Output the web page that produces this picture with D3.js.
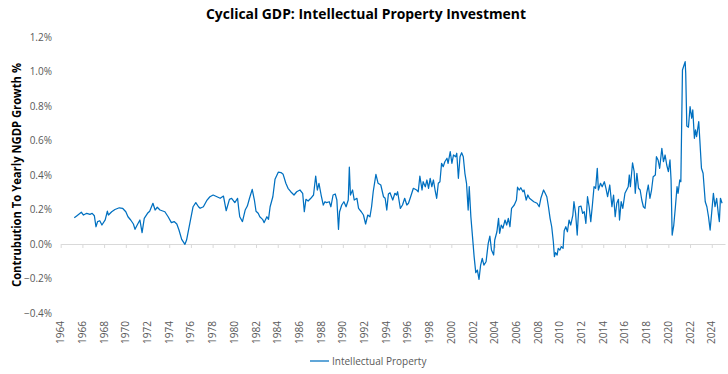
<!DOCTYPE html>
<html>
<head>
<meta charset="utf-8">
<script src="https://cdn.jsdelivr.net/npm/d3@7"></script>
<style>
  body { margin: 0; background: #fff; }
  svg { display: block; font-family: "Open Sans", "Liberation Sans", sans-serif; }
</style>
</head>
<body>
<svg id="chart"></svg>
<script>
var width = 728;
var height = 374;

// time in decimal years, values in % of yearly NGDP growth
var years = [
  1965.25, 1965.5, 1965.9, 1966.1, 1966.4, 1966.7, 1966.9, 1967.1, 1967.25, 1967.4,
  1967.6, 1967.8, 1968.1, 1968.3, 1968.4, 1968.7, 1969.0, 1969.4, 1969.7, 1970.0,
  1970.2, 1970.45, 1970.7, 1970.85, 1971.05, 1971.3, 1971.5, 1971.7, 1972.0, 1972.2,
  1972.5, 1972.7, 1972.9, 1973.15, 1973.6, 1973.9, 1974.2, 1974.45, 1974.7, 1974.9,
  1975.15, 1975.45, 1975.6, 1975.9, 1976.2, 1976.45, 1976.7, 1976.85, 1977.15, 1977.45,
  1977.75, 1978.05, 1978.4, 1978.7, 1979.0, 1979.25, 1979.55, 1979.75, 1980.05, 1980.3,
  1980.4, 1980.5, 1980.75, 1981.0, 1981.2, 1981.4, 1981.65, 1981.85, 1982.0, 1982.2,
  1982.35, 1982.6, 1982.75, 1983.0, 1983.15, 1983.3, 1983.55, 1983.75, 1984.05, 1984.3,
  1984.5, 1984.75, 1984.95, 1985.2, 1985.5, 1985.75, 1986.05, 1986.3, 1986.45, 1986.6,
  1986.8, 1987.05, 1987.3, 1987.5, 1987.65, 1987.8, 1988.0, 1988.2, 1988.35, 1988.5,
  1988.75, 1988.9, 1989.1, 1989.3, 1989.45, 1989.6, 1989.7, 1989.9, 1990.1, 1990.3,
  1990.5, 1990.6, 1990.7, 1990.9, 1991.05, 1991.3, 1991.45, 1991.7, 1991.9, 1992.1,
  1992.3, 1992.5, 1992.65, 1992.8, 1993.05, 1993.25, 1993.5, 1993.75, 1993.9, 1994.05,
  1994.2, 1994.35, 1994.6, 1994.8, 1994.95, 1995.05, 1995.3, 1995.5, 1995.7, 1995.9,
  1996.05, 1996.25, 1996.5, 1996.8, 1996.95, 1997.1, 1997.3, 1997.4, 1997.6, 1997.75,
  1997.9, 1998.05, 1998.2, 1998.35, 1998.5, 1998.65, 1998.8, 1998.95, 1999.1, 1999.25,
  1999.4, 1999.6, 1999.7, 1999.9, 2000.05, 2000.2, 2000.4, 2000.5, 2000.65, 2000.8,
  2000.95, 2001.1, 2001.25, 2001.4, 2001.55, 2001.65, 2001.8, 2001.95, 2002.1, 2002.25,
  2002.4, 2002.55, 2002.7, 2002.85, 2003.0, 2003.2, 2003.4, 2003.55, 2003.7, 2003.9,
  2004.0, 2004.2, 2004.35, 2004.45, 2004.6, 2004.75, 2004.95, 2005.1, 2005.25, 2005.4,
  2005.55, 2005.8, 2006.0, 2006.1, 2006.25, 2006.4, 2006.6, 2006.7, 2006.9, 2007.05,
  2007.2, 2007.4, 2007.6, 2007.9, 2008.1, 2008.25, 2008.5, 2008.65, 2008.8, 2008.95,
  2009.1, 2009.25, 2009.4, 2009.5, 2009.6, 2009.75, 2009.85, 2010.0, 2010.15, 2010.3,
  2010.4, 2010.55, 2010.7, 2010.85, 2011.0, 2011.2, 2011.3, 2011.45, 2011.6, 2011.75,
  2011.95, 2012.1, 2012.25, 2012.4, 2012.55, 2012.7, 2012.85, 2013.0, 2013.15, 2013.3,
  2013.45, 2013.55, 2013.75, 2013.9, 2014.1, 2014.25, 2014.4, 2014.6, 2014.8, 2014.95,
  2015.1, 2015.25, 2015.4, 2015.5, 2015.65, 2015.8, 2016.0, 2016.15, 2016.3, 2016.4,
  2016.5, 2016.7, 2016.85, 2016.95, 2017.1, 2017.25, 2017.4, 2017.55, 2017.7, 2017.85,
  2018.0, 2018.15, 2018.3, 2018.45, 2018.6, 2018.8, 2018.9, 2019.05, 2019.2, 2019.4,
  2019.55, 2019.7, 2019.85, 2020.0, 2020.15, 2020.25, 2020.35, 2020.5, 2020.65, 2020.8,
  2020.9, 2021.05, 2021.15, 2021.3, 2021.45, 2021.55, 2021.6, 2021.7, 2021.85, 2022.0,
  2022.15, 2022.25, 2022.4, 2022.5, 2022.6, 2022.8, 2022.9, 2023.05, 2023.2, 2023.4,
  2023.55, 2023.7, 2023.85, 2024.0, 2024.15, 2024.3, 2024.45, 2024.6, 2024.7, 2024.8,
  2024.95
];

var ipValues = [
  0.152, 0.164, 0.184, 0.168, 0.178, 0.172, 0.178, 0.164, 0.100, 0.130,
  0.135, 0.110, 0.140, 0.190, 0.168, 0.187, 0.200, 0.210, 0.207, 0.187,
  0.158, 0.139, 0.116, 0.085, 0.110, 0.139, 0.066, 0.149, 0.178, 0.190,
  0.236, 0.197, 0.213, 0.197, 0.187, 0.158, 0.124, 0.130, 0.116, 0.081,
  0.027, -0.002, 0.023, 0.120, 0.216, 0.240, 0.216, 0.207, 0.216, 0.251,
  0.274, 0.284, 0.274, 0.265, 0.278, 0.193, 0.259, 0.265, 0.240, 0.265,
  0.207, 0.158, 0.130, 0.197, 0.220, 0.265, 0.317, 0.255, 0.190, 0.178,
  0.158, 0.143, 0.124, 0.158, 0.143, 0.216, 0.274, 0.375, 0.416, 0.414,
  0.404, 0.352, 0.323, 0.303, 0.284, 0.303, 0.313, 0.294, 0.187, 0.259,
  0.249, 0.265, 0.284, 0.394, 0.313, 0.352, 0.284, 0.226, 0.245, 0.240,
  0.245, 0.216, 0.284, 0.290, 0.255, 0.085, 0.187, 0.226, 0.245, 0.216,
  0.255, 0.445, 0.284, 0.313, 0.255, 0.265, 0.207, 0.187, 0.168, 0.116,
  0.168, 0.158, 0.216, 0.303, 0.404, 0.352, 0.342, 0.274, 0.265, 0.197,
  0.290, 0.297, 0.255, 0.294, 0.284, 0.303, 0.207, 0.226, 0.265, 0.226,
  0.236, 0.274, 0.323, 0.313, 0.303, 0.394, 0.313, 0.361, 0.332, 0.371,
  0.323, 0.381, 0.332, 0.371, 0.313, 0.265, 0.352, 0.361, 0.468, 0.448,
  0.477, 0.497, 0.468, 0.535, 0.468, 0.516, 0.506, 0.526, 0.381, 0.506,
  0.529, 0.506, 0.410, 0.352, 0.197, 0.332, 0.158, 0.043, -0.073, -0.166,
  -0.151, -0.205, -0.122, -0.083, -0.122, -0.103, 0.004, 0.046, -0.035, -0.064,
  0.023, 0.071, 0.149, 0.062, 0.110, 0.091, 0.139, 0.110, 0.149, 0.100,
  0.207, 0.226, 0.255, 0.329, 0.313, 0.326, 0.303, 0.313, 0.255, 0.284,
  0.265, 0.255, 0.245, 0.236, 0.216, 0.265, 0.313, 0.294, 0.274, 0.216,
  0.149, 0.100, 0.013, -0.073, -0.050, -0.064, -0.025, -0.035, -0.015, -0.025,
  0.077, 0.100, 0.071, 0.139, 0.110, 0.168, 0.245, 0.178, 0.052, 0.216,
  0.220, 0.178, 0.187, 0.120, 0.274, 0.216, 0.130, 0.226, 0.332, 0.323,
  0.439, 0.313, 0.352, 0.332, 0.361, 0.323, 0.274, 0.342, 0.216, 0.284,
  0.158, 0.236, 0.259, 0.139, 0.245, 0.207, 0.294, 0.313, 0.332, 0.400,
  0.332, 0.471, 0.419, 0.294, 0.410, 0.323, 0.313, 0.255, 0.216, 0.207,
  0.294, 0.342, 0.265, 0.313, 0.390, 0.400, 0.506, 0.487, 0.439, 0.555,
  0.477, 0.516, 0.458, 0.419, 0.487, 0.371, 0.052, 0.110, 0.216, 0.332,
  0.294, 0.371, 0.361, 1.009, 1.038, 1.057, 0.990, 0.684, 0.677, 0.796,
  0.729, 0.777, 0.613, 0.661, 0.622, 0.709, 0.603, 0.439, 0.410, 0.245,
  0.216, 0.158, 0.081, 0.187, 0.294, 0.216, 0.265, 0.178, 0.130, 0.265,
  0.236
];

var yTicks = [-0.4, -0.2, 0, 0.2, 0.4, 0.6, 0.8, 1.0, 1.2];
var xTicks = d3.range(1964, 2025, 2);

var seriesName = 'Intellectual Property';
var lineColor = '#0070c0';

var svg = d3.select('#chart')
    .attr('width', width)
    .attr('height', height);

var x = d3.scaleLinear()
    .domain([1964, 2025.22])
    .range([60.7, 725]);

var y = d3.scaleLinear()
    .domain([-0.4, 1.2])
    .range([313, 37]);

// title
svg.append('text')
    .attr('x', 366)
    .attr('y', 19)
    .attr('text-anchor', 'middle')
    .attr('font-size', 15)
    .attr('font-weight', 'bold')
    .attr('fill', '#000')
    .attr('textLength', 320)
    .attr('lengthAdjust', 'spacingAndGlyphs')
    .text('Cyclical GDP: Intellectual Property Investment');

// y axis title
svg.append('text')
    .attr('transform', 'translate(21,175) rotate(-90)')
    .attr('text-anchor', 'middle')
    .attr('font-size', 12)
    .attr('font-weight', 'bold')
    .attr('fill', '#000')
    .attr('textLength', 224)
    .attr('lengthAdjust', 'spacingAndGlyphs')
    .text('Contrubution To Yearly NGDP Growth %');

// y axis: labels only
var yAxis = svg.append('g')
    .attr('transform', 'translate(52,0)')
    .call(d3.axisLeft(y)
        .tickValues(yTicks)
        .tickSize(0)
        .tickPadding(0)
        .tickFormat(function (d) { return d3.format('.1f')(d) + '%'; }));
yAxis.select('.domain').remove();
yAxis.selectAll('text')
    .attr('font-family', 'Open Sans, Liberation Sans, sans-serif')
    .attr('font-size', 10)
    .attr('fill', '#595959');

// x axis line at zero with tick marks
var xAxis = svg.append('g')
    .attr('transform', 'translate(0,' + y(0) + ')')
    .call(d3.axisBottom(x)
        .tickValues(xTicks)
        .tickSizeInner(4)
        .tickSizeOuter(0)
        .tickFormat(''));
xAxis.select('.domain').attr('stroke', '#d9d9d9');
xAxis.selectAll('.tick line').attr('stroke', '#d9d9d9');

// x labels sit low, below the plot
svg.append('g')
    .selectAll('text')
    .data(xTicks)
    .enter()
    .append('text')
    .attr('transform', function (d) { return 'translate(' + (x(d) + 3.5) + ',321) rotate(-90)'; })
    .attr('text-anchor', 'end')
    .attr('font-size', 10)
    .attr('fill', '#595959')
    .text(function (d) { return d; });

// the series
var line = d3.line()
    .x(function (d, i) { return x(years[i]); })
    .y(function (d) { return y(d); });

svg.append('path')
    .datum(ipValues)
    .attr('d', line)
    .attr('fill', 'none')
    .attr('stroke', lineColor)
    .attr('stroke-width', 1.25)
    .attr('stroke-linejoin', 'round');

// legend
var legend = svg.append('g')
    .attr('transform', 'translate(310,361)');
legend.append('line')
    .attr('x1', 0)
    .attr('x2', 19)
    .attr('stroke', lineColor)
    .attr('stroke-width', 1.25);
legend.append('text')
    .attr('x', 22)
    .attr('y', 3.5)
    .attr('font-size', 10)
    .attr('fill', '#595959')
    .text(seriesName);
</script>
</body>
</html>
